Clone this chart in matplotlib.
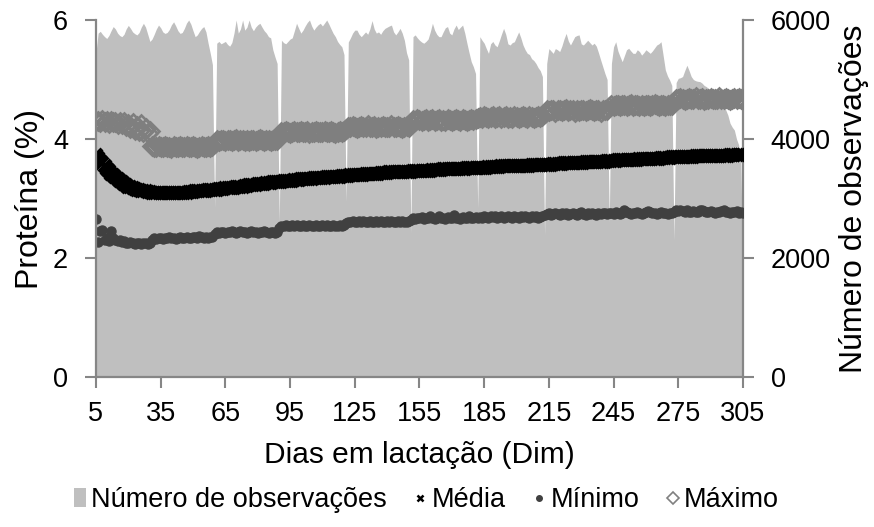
import matplotlib
matplotlib.use("Agg")
import matplotlib.pyplot as plt
import numpy as np
from matplotlib.lines import Line2D
from matplotlib.patches import Patch

plt.rcParams["font.family"] = ["Liberation Sans", "DejaVu Sans"]

# dias em lactação 5..305
dias = np.arange(5, 306)
x_ticks = [5, 35, 65, 95, 125, 155, 185, 215, 245, 275, 305]

# número de observações (eixo secundário), blocos mensais separados por um dia baixo
n_obs = (
    [5450, 5780, 5810, 5760, 5720, 5690, 5740,
     5820, 5890, 5850, 5780, 5740, 5720, 5760,
     5850, 5910, 5860, 5800, 5770, 5750, 5790,
     5880, 5945, 5880, 5760, 5640, 5680, 5760,
     5850, 5915, 5870, 5800, 5775, 5790, 5840,
     5920, 5970, 5900, 5820, 5775, 5790, 5860,
     5950, 6000, 5930, 5820, 5720, 5750, 5810,
     5860, 5890, 5800, 5610, 5440, 5250,
     2850]
    + [5610, 5640, 5600, 5620, 5640, 5590, 5560,
       5620, 5780, 6000, 5780, 5850, 6000, 5830,
       5880, 6000, 5880, 5820, 5880, 5920, 5945,
       5880, 5820, 5780, 5720, 5700, 5500, 5380, 5270,
       2600]
    + [5660, 5620, 5600, 5640, 5680, 5700, 5820,
       5945, 5860, 5780, 5830, 5900, 5960, 6000,
       5900, 5830, 5880, 5920, 5945, 5900, 5950,
       6000, 5930, 5850, 5775, 5720, 5640, 5590, 5550, 5420,
       2950]
    + [5630, 5700, 5780, 5830, 5830, 5760, 5720,
       5760, 5800, 5760, 5850, 5990, 5850, 5780,
       5800, 5760, 5820, 5860, 5880, 5900, 5915,
       5800, 5750, 5800, 5860, 5780, 5660, 5450, 5330,
       2420]
    + [5720, 5750, 5700, 5660, 5630, 5610, 5640,
       5680, 5800, 5945, 5830, 5760, 5720, 5720,
       5800, 5870, 5890, 5780, 5750, 5850, 5915,
       5840, 5880, 5915, 5780, 5610, 5450, 5300, 5215, 5100,
       2840]
    + [5720, 5660, 5610, 5520, 5440, 5600, 5640,
       5580, 5550, 5650, 5760, 5860, 5760, 5600,
       5580, 5620, 5635, 5720, 5800, 5700, 5580,
       5500, 5440, 5420, 5350, 5320, 5270, 5200, 5150, 5050,
       2390]
    + [5270, 5520, 5480, 5440, 5520, 5500, 5470,
       5560, 5680, 5775, 5650, 5580, 5650, 5720,
       5740, 5750, 5600, 5580, 5620, 5660, 5620,
       5580, 5610, 5560, 5450, 5330, 5215, 5100, 5000,
       2600]
    + [5270, 5550, 5635, 5480, 5385, 5300, 5400,
       5500, 5525, 5480, 5440, 5440, 5500, 5470,
       5410, 5450, 5500, 5470, 5440, 5480, 5530,
       5580, 5600, 5635, 5400, 5160, 5060, 4990, 4900,
       2300]
    + [4950, 5020, 5030, 5050, 5150, 5240, 5150,
       5050, 5000, 4980, 4970, 4965, 4940, 4900,
       4880, 4850, 4830, 4825, 4820, 4810, 4800,
       4700, 4600, 4490, 4400, 4265, 4200, 4150, 4000, 3900, 3600, 1750]
)

media = [
    3.73, 3.68, 3.63, 3.59, 3.54, 3.50, 3.46, 3.42, 3.39, 3.36,
    3.32, 3.29, 3.27, 3.24, 3.22, 3.20, 3.19, 3.17, 3.16, 3.15,
    3.14, 3.13, 3.13, 3.12, 3.11, 3.11, 3.10, 3.10, 3.10, 3.10,
    3.09, 3.09, 3.09, 3.09, 3.09, 3.09, 3.09, 3.09, 3.10, 3.10,
    3.10, 3.10, 3.10, 3.11, 3.11, 3.11, 3.12, 3.12, 3.12, 3.13,
    3.13, 3.13, 3.14, 3.14, 3.14, 3.15, 3.15, 3.16, 3.16, 3.16,
    3.17, 3.17, 3.18, 3.18, 3.18, 3.19, 3.19, 3.20, 3.20, 3.21,
    3.21, 3.22, 3.22, 3.23, 3.23, 3.24, 3.24, 3.25, 3.25, 3.26,
    3.26, 3.26, 3.27, 3.27, 3.28, 3.28, 3.28, 3.29, 3.29, 3.30,
    3.30, 3.30, 3.31, 3.31, 3.31, 3.32, 3.32, 3.32, 3.33, 3.33,
    3.33, 3.34, 3.34, 3.34, 3.35, 3.35, 3.35, 3.36, 3.36, 3.36,
    3.37, 3.37, 3.37, 3.37, 3.38, 3.38, 3.38, 3.38, 3.39, 3.39,
    3.39, 3.40, 3.40, 3.40, 3.40, 3.41, 3.41, 3.41, 3.42, 3.42,
    3.42, 3.42, 3.43, 3.43, 3.43, 3.43, 3.44, 3.44, 3.44, 3.44,
    3.44, 3.44, 3.45, 3.45, 3.45, 3.45, 3.45, 3.46, 3.46, 3.46,
    3.46, 3.47, 3.47, 3.47, 3.47, 3.47, 3.48, 3.48, 3.48, 3.48,
    3.48, 3.49, 3.49, 3.49, 3.49, 3.49, 3.50, 3.50, 3.50, 3.50,
    3.50, 3.50, 3.51, 3.51, 3.51, 3.51, 3.51, 3.52, 3.52, 3.52,
    3.52, 3.52, 3.53, 3.53, 3.53, 3.53, 3.53, 3.53, 3.54, 3.54,
    3.54, 3.54, 3.54, 3.54, 3.54, 3.55, 3.55, 3.55, 3.55, 3.55,
    3.55, 3.55, 3.56, 3.56, 3.56, 3.56, 3.56, 3.57, 3.57, 3.57,
    3.57, 3.57, 3.58, 3.58, 3.58, 3.58, 3.58, 3.59, 3.59, 3.59,
    3.59, 3.59, 3.60, 3.60, 3.60, 3.60, 3.60, 3.61, 3.61, 3.61,
    3.61, 3.61, 3.62, 3.62, 3.62, 3.62, 3.62, 3.63, 3.63, 3.63,
    3.63, 3.63, 3.64, 3.64, 3.64, 3.64, 3.64, 3.65, 3.65, 3.65,
    3.65, 3.65, 3.66, 3.66, 3.66, 3.66, 3.66, 3.67, 3.67, 3.67,
    3.67, 3.67, 3.68, 3.68, 3.68, 3.68, 3.68, 3.69, 3.69, 3.69,
    3.69, 3.69, 3.70, 3.70, 3.70, 3.70, 3.70, 3.70, 3.71, 3.71,
    3.71, 3.71, 3.71, 3.71, 3.71, 3.72, 3.72, 3.72, 3.72, 3.72,
    3.72, 3.72, 3.72, 3.72, 3.73, 3.73, 3.73, 3.73, 3.73, 3.73, 3.73,
]

minimo = (
    [2.66, 2.27, 2.46, 2.47, 2.31, 2.34, 2.29, 2.46, 2.33, 2.31, 2.29, 2.30, 2.27,
     2.28, 2.26, 2.25, 2.27, 2.25, 2.24, 2.26, 2.25, 2.24, 2.25, 2.26, 2.24, 2.25]
    + [2.30, 2.33, 2.32, 2.34, 2.33, 2.32, 2.34, 2.33, 2.35, 2.33, 2.34, 2.32, 2.34, 2.35, 2.33,
       2.34, 2.36, 2.34, 2.33, 2.35, 2.36, 2.34, 2.37, 2.35, 2.34, 2.36, 2.33, 2.35, 2.36]
    + [2.40, 2.43, 2.42, 2.44, 2.43, 2.42, 2.44, 2.43, 2.45, 2.43, 2.42, 2.44, 2.46, 2.43, 2.44,
       2.42, 2.43, 2.45, 2.44, 2.43, 2.42, 2.44, 2.43, 2.45, 2.43, 2.42, 2.44, 2.43, 2.42, 2.44]
    + [2.50, 2.54, 2.53, 2.55, 2.54, 2.53, 2.55, 2.54, 2.56, 2.53, 2.54, 2.55, 2.53, 2.54, 2.56, 2.54,
       2.53, 2.55, 2.54, 2.53, 2.55, 2.54, 2.56, 2.54, 2.53, 2.55, 2.54, 2.53, 2.55, 2.54, 2.55]
    + [2.59, 2.61, 2.60, 2.62, 2.61, 2.60, 2.62, 2.61, 2.63, 2.61, 2.60, 2.62, 2.61, 2.60, 2.62,
       2.61, 2.63, 2.61, 2.60, 2.62, 2.61, 2.62, 2.60, 2.61, 2.63, 2.61, 2.62, 2.60, 2.61, 2.62]
    + [2.64, 2.67, 2.66, 2.68, 2.67, 2.69, 2.66, 2.68, 2.67, 2.70, 2.67, 2.66, 2.68, 2.71, 2.67, 2.68,
       2.66, 2.69, 2.67, 2.68, 2.72, 2.67, 2.68, 2.66, 2.69, 2.67, 2.68, 2.70, 2.67, 2.68, 2.69]
    + [2.68, 2.69, 2.68, 2.70, 2.69, 2.68, 2.70, 2.69, 2.71, 2.68, 2.69, 2.70, 2.68, 2.69, 2.71, 2.69,
       2.68, 2.70, 2.69, 2.68, 2.70, 2.69, 2.71, 2.69, 2.68, 2.70, 2.69, 2.70, 2.68, 2.69, 2.70]
    + [2.72, 2.74, 2.75, 2.73, 2.74, 2.76, 2.74, 2.73, 2.75, 2.74, 2.76, 2.73, 2.74, 2.75, 2.74,
       2.73, 2.75, 2.77, 2.74, 2.73, 2.75, 2.74, 2.76, 2.74, 2.73, 2.75, 2.74, 2.76, 2.75, 2.74]
    + [2.75, 2.76, 2.74, 2.77, 2.75, 2.74, 2.76, 2.80, 2.77, 2.75, 2.74, 2.76, 2.75, 2.77, 2.75,
       2.74, 2.76, 2.78, 2.79, 2.77, 2.75, 2.76, 2.74, 2.75, 2.77, 2.76, 2.75, 2.74, 2.76, 2.75]
    + [2.78, 2.80, 2.79, 2.81, 2.79, 2.78, 2.80, 2.77, 2.78, 2.79, 2.77, 2.78, 2.80, 2.81, 2.79, 2.78, 2.77,
       2.79, 2.78, 2.76, 2.78, 2.77, 2.79, 2.81, 2.78, 2.77, 2.76, 2.78, 2.77, 2.79, 2.76, 2.77, 2.76]
)

maximo = (
    [4.31, 4.30, 4.28, 4.32, 4.29, 4.31, 4.27, 4.30, 4.28, 4.29, 4.26, 4.28,
     4.25, 4.28, 4.22, 4.26, 4.19, 4.27, 4.16, 4.22, 4.14, 4.26, 4.12, 4.19, 4.10, 4.14]
    + [3.88, 3.86, 3.87, 3.89, 3.86, 3.87, 3.88, 3.86, 3.87, 3.85, 3.88, 3.87, 3.86, 3.88, 3.87,
       3.86, 3.89, 3.87, 3.86, 3.88, 3.87, 3.85, 3.87, 3.88, 3.86, 3.87, 3.88, 3.87, 3.89]
    + [3.93, 3.98, 3.97, 3.99, 3.98, 3.96, 3.98, 3.99, 3.97, 3.98, 4.00, 3.97, 3.98, 3.99, 3.96,
       3.98, 3.97, 3.99, 3.98, 3.97, 3.98, 4.00, 3.98, 3.97, 3.99, 3.98, 3.96, 3.98, 3.99, 3.98]
    + [4.05, 4.12, 4.11, 4.13, 4.12, 4.10, 4.12, 4.13, 4.11, 4.12, 4.14, 4.11, 4.12, 4.13, 4.10, 4.12,
       4.11, 4.13, 4.12, 4.11, 4.12, 4.14, 4.12, 4.11, 4.13, 4.12, 4.10, 4.12, 4.13, 4.12, 4.13]
    + [4.17, 4.21, 4.20, 4.22, 4.21, 4.19, 4.21, 4.22, 4.20, 4.21, 4.23, 4.20, 4.21, 4.22, 4.19,
       4.21, 4.20, 4.22, 4.21, 4.20, 4.21, 4.23, 4.21, 4.20, 4.22, 4.21, 4.19, 4.21, 4.22, 4.21]
    + [4.27, 4.32, 4.31, 4.33, 4.32, 4.30, 4.32, 4.33, 4.31, 4.32, 4.34, 4.31, 4.32, 4.33, 4.30, 4.32,
       4.31, 4.33, 4.32, 4.31, 4.32, 4.34, 4.32, 4.31, 4.33, 4.32, 4.30, 4.32, 4.33, 4.32, 4.33]
    + [4.35, 4.37, 4.36, 4.38, 4.37, 4.35, 4.37, 4.38, 4.36, 4.37, 4.39, 4.36, 4.37, 4.38, 4.35, 4.37,
       4.36, 4.38, 4.37, 4.36, 4.37, 4.39, 4.37, 4.36, 4.38, 4.37, 4.35, 4.37, 4.38, 4.37, 4.38]
    + [4.43, 4.48, 4.47, 4.49, 4.48, 4.46, 4.48, 4.49, 4.47, 4.48, 4.50, 4.47, 4.48, 4.49, 4.46,
       4.48, 4.47, 4.49, 4.48, 4.47, 4.48, 4.50, 4.48, 4.47, 4.49, 4.48, 4.46, 4.48, 4.49, 4.48]
    + [4.53, 4.57, 4.56, 4.58, 4.57, 4.55, 4.57, 4.58, 4.56, 4.57, 4.59, 4.56, 4.57, 4.58, 4.55,
       4.57, 4.56, 4.58, 4.57, 4.56, 4.57, 4.59, 4.57, 4.56, 4.58, 4.57, 4.55, 4.57, 4.58, 4.57]
    + [4.63, 4.68, 4.67, 4.69, 4.68, 4.66, 4.68, 4.69, 4.67, 4.68, 4.70, 4.67, 4.68, 4.69, 4.66, 4.68, 4.67,
       4.69, 4.68, 4.67, 4.68, 4.70, 4.68, 4.67, 4.69, 4.68, 4.66, 4.68, 4.69, 4.68, 4.69, 4.68, 4.68]
)

spine_gray = "#868686"

fig = plt.figure(figsize=(8.74, 5.27), dpi=100)
ax = fig.add_axes([0.1098, 0.2846, 0.7403, 0.6774])
ax2 = ax.twinx()

ax2.fill_between(dias, n_obs, color="#BFBFBF", lw=0)
ax2.set_ylim(0, 6000)
ax2.set_yticks([0, 2000, 4000, 6000])

ax.plot(dias, maximo, ls="none", marker="D", ms=9, mfc="none", mec="#7F7F7F", mew=1.9)
ax.plot(dias, minimo, ls="none", marker="o", ms=6.5, color="#404040")
ax.plot(dias, media, ls="none", marker="x", ms=9, mew=3, color="black")

ax.set_zorder(ax2.get_zorder() + 1)
ax.patch.set_visible(False)

ax.set_xlim(5, 305)
ax.set_ylim(0, 6)
ax.set_xticks(x_ticks)
ax.set_yticks([0, 2, 4, 6])

for s in ["top", "right"]:
    ax.spines[s].set_visible(False)
for s in ["top", "left", "bottom"]:
    ax2.spines[s].set_visible(False)
for s in ["left", "bottom"]:
    ax.spines[s].set_color(spine_gray)
    ax.spines[s].set_linewidth(1.6)
ax2.spines["right"].set_color(spine_gray)
ax2.spines["right"].set_linewidth(1.6)

ax.tick_params(axis="y", direction="out", length=8, width=1.5, color=spine_gray, labelsize=19.5, pad=12)
ax.tick_params(axis="x", direction="out", length=8, width=1.5, color=spine_gray, labelsize=19.5, pad=9)
ax2.tick_params(axis="y", direction="out", length=8, width=1.5, color=spine_gray, labelsize=19.5, pad=12)

ax.set_xlabel("Dias em lactação (Dim)", fontsize=21.5, labelpad=10)
ax.set_ylabel("Proteína (%)", fontsize=23, labelpad=6)
ax2.set_ylabel("Número de observações", fontsize=23, labelpad=6)

handles = [
    Patch(facecolor="#BFBFBF", edgecolor="none"),
    Line2D([], [], ls="none", marker="x", ms=4.5, mew=1.8, color="black"),
    Line2D([], [], ls="none", marker="o", ms=4, color="#404040"),
    Line2D([], [], ls="none", marker="D", ms=6, mfc="none", mec="#808080", mew=1.2),
]
labels = ["Número de observações", "Média", "Mínimo", "Máximo"]
fig.legend(handles, labels, loc="center", bbox_to_anchor=(0.488, 0.051), ncol=4,
           frameon=False, fontsize=19.5, handlelength=0.45, handletextpad=0.2,
           columnspacing=1.0, borderaxespad=0)

fig.savefig("out.png", dpi=100)
